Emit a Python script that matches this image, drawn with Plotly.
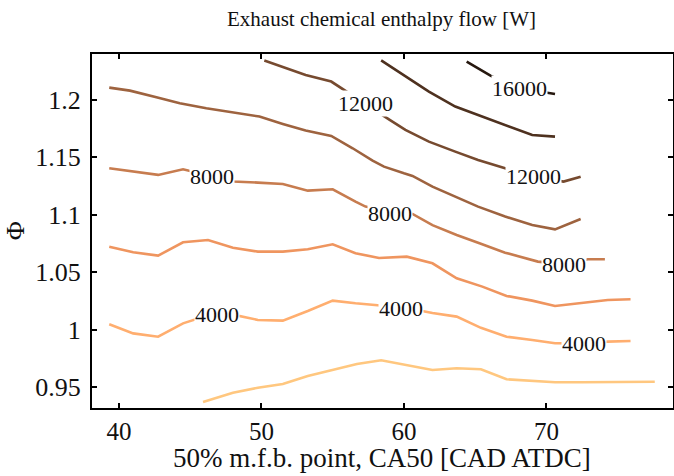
import plotly.graph_objects as go

# ---- data: contour lines of exhaust chemical enthalpy flow [W] ----
levels = [2000, 4000, 6000, 8000, 10000, 12000, 14000, 16000]

c2000_x = [45.9, 48.0, 49.75, 51.5, 53.25, 55.0, 56.7, 58.4, 60.1, 62.0, 63.7, 65.4, 67.2, 69.0, 70.6, 72.5, 77.6]
c2000_y = [0.937, 0.945, 0.9494, 0.9526, 0.9596, 0.9648, 0.970, 0.9733, 0.9692, 0.9648, 0.9663, 0.9654, 0.9567, 0.9552, 0.9541, 0.9541, 0.9546]

c4000_x = [39.32, 41.0, 42.75, 44.5, 46.25, 48.0, 49.75, 51.5, 53.25, 55.0, 56.6, 58.25, 60.1, 62.0, 63.7, 65.4, 67.2, 69.0, 70.6, 72.4, 74.3, 75.9]
c4000_y = [1.0046, 0.9967, 0.9938, 1.0054, 1.0125, 1.013, 1.0084, 1.0078, 1.0162, 1.0252, 1.0229, 1.0211, 1.019, 1.0145, 1.0113, 1.0015, 0.9938, 0.9909, 0.9881, 0.988, 0.9895, 0.9901]

c6000_x = [39.32, 41.0, 42.75, 44.5, 46.25, 48.0, 49.75, 51.5, 53.25, 55.0, 56.6, 58.25, 60.2, 62.0, 63.7, 65.5, 67.2, 69.0, 70.6, 72.5, 74.3, 75.9]
c6000_y = [1.0722, 1.0673, 1.0644, 1.076, 1.078, 1.0713, 1.0679, 1.0679, 1.07, 1.0743, 1.0665, 1.0624, 1.0635, 1.0577, 1.0447, 1.0374, 1.0293, 1.0252, 1.0206, 1.0234, 1.0258, 1.0264]

c8000_x = [39.32, 41.0, 42.75, 44.5, 46.25, 48.0, 49.75, 51.5, 53.25, 55.0, 56.6, 57.3, 58.9, 60.6, 62.0, 63.7, 65.3, 67.1, 69.4, 71.2, 72.9, 74.1]
c8000_y = [1.1405, 1.1376, 1.1347, 1.1396, 1.134, 1.129, 1.128, 1.1268, 1.121, 1.1222, 1.1114, 1.1071, 1.103, 1.1007, 1.091, 1.0824, 1.0752, 1.067, 1.0592, 1.057, 1.0612, 1.0612]

c10000_x = [39.32, 40.77, 42.63, 44.27, 46.13, 48.0, 49.86, 51.5, 53.1, 54.9, 56.4, 57.8, 58.6, 60.0, 60.6, 62.0, 63.6, 65.2, 67.1, 69.0, 70.6, 72.4]
c10000_y = [1.2107, 1.2081, 1.2023, 1.1971, 1.1927, 1.189, 1.1855, 1.1791, 1.1733, 1.1686, 1.1579, 1.1471, 1.1419, 1.1361, 1.1338, 1.1245, 1.1158, 1.1071, 1.0984, 1.0911, 1.0873, 1.0963]

c12000_x = [50.2, 53.1, 54.9, 55.6, 57.3, 59.0, 60.1, 61.75, 63.6, 65.2, 67.1, 69.1, 71.2, 72.4]
c12000_y = [1.2343, 1.2218, 1.216, 1.2102, 1.196, 1.1826, 1.1739, 1.1637, 1.155, 1.1477, 1.1405, 1.133, 1.1289, 1.1332]

c14000_x = [58.4, 60.1, 61.75, 63.6, 65.2, 67.1, 69.0, 70.6]
c14000_y = [1.2345, 1.2203, 1.2073, 1.1942, 1.1869, 1.1782, 1.1695, 1.168]

c16000_x = [64.4, 66.1, 68.1, 70.1, 70.6]
c16000_y = [1.2334, 1.2209, 1.2102, 1.2058, 1.2052]

# inline contour labels
label_text = ["4000", "4000", "4000", "8000", "8000", "8000", "12000", "12000", "16000"]
label_x = [46.9, 59.8, 72.6, 46.5, 59.0, 71.2, 57.3, 69.1, 68.1]
label_y = [1.013, 1.018, 0.988, 1.1335, 1.1013, 1.0571, 1.197, 1.133, 1.2102]

xtick_vals = [40, 50, 60, 70]
ytick_vals = [0.95, 1.0, 1.05, 1.1, 1.15, 1.2]
ytick_text = ["0.95", "1", "1.05", "1.1", "1.15", "1.2"]

title_text = "Exhaust chemical enthalpy flow [W]"
xlabel_text = "50% m.f.b. point, CA50 [CAD ATDC]"
ylabel_text = "Φ"

lines_x = [c2000_x, c4000_x, c6000_x, c8000_x, c10000_x, c12000_x, c14000_x, c16000_x]
lines_y = [c2000_y, c4000_y, c6000_y, c8000_y, c10000_y, c12000_y, c14000_y, c16000_y]


def copper(v):
    r = min(1.0, 1.25 * v)
    g = 0.7812 * v
    b = 0.4975 * v
    return "rgb(%d,%d,%d)" % (round(r * 255), round(g * 255), round(b * 255))


FONT = "Liberation Serif"
W, H = 675, 476
L, R, T, B = 92, 0, 54, 68
VIEW_W = 674  # visible window width

fig = go.Figure()
n = len(levels)
for i, (xs, ys) in enumerate(zip(lines_x, lines_y)):
    v = 1.0 - i * 0.88 / (n - 1)
    fig.add_trace(go.Scatter(x=xs, y=ys, mode="lines",
                             line=dict(color=copper(v), width=2.6),
                             hoverinfo="skip", showlegend=False))

for t, x, y in zip(label_text, label_x, label_y):
    fig.add_annotation(x=x, y=y, xref="x", yref="y", text=t, showarrow=False,
                       font=dict(family=FONT, size=22, color="#111"),
                       bgcolor="white", borderpad=0)

ph = H - T - B
pw = W - L - R
cx = ((L + VIEW_W - 1) / 2 - L) / pw
fig.add_annotation(x=cx, y=1 + (T - 19) / ph, xref="paper", yref="paper",
                   text=title_text, showarrow=False,
                   font=dict(family=FONT, size=21, color="#111"),
                   xanchor="center", yanchor="middle")
fig.add_annotation(x=cx, y=-(458 - (H - B)) / ph, xref="paper", yref="paper",
                   text=xlabel_text, showarrow=False,
                   font=dict(family=FONT, size=27, color="#111"),
                   xanchor="center", yanchor="middle", borderpad=0)
fig.add_annotation(x=-(L - 15) / pw, y=0.5, xref="paper", yref="paper",
                   text=ylabel_text, showarrow=False, textangle=-90,
                   font=dict(family=FONT, size=26, color="#111"),
                   xanchor="center", yanchor="middle")

axis_common = dict(showline=True, linecolor="black", linewidth=2, mirror="ticks",
                   ticks="inside", ticklen=5, tickwidth=1.5, tickcolor="black",
                   showgrid=False, zeroline=False)
fig.update_xaxes(range=[38.11, 38.11 + pw / 14.3], tickvals=xtick_vals, ticklabelstandoff=0,
                 tickfont=dict(family=FONT, size=25, color="#111"), **axis_common)
fig.update_yaxes(range=[0.9317, 1.240], tickvals=ytick_vals, ticktext=ytick_text,
                 ticklabelstandoff=4, tickfont=dict(family=FONT, size=26, color="#111"),
                 **axis_common)

fig.update_layout(width=W, height=H, margin=dict(l=L, r=R, t=T, b=B, pad=0),
                  plot_bgcolor="white", paper_bgcolor="white")

fig.write_html("out.html", config={"displayModeBar": False},
               post_script="document.body.style.margin='0px';document.body.style.overflow='hidden';")
